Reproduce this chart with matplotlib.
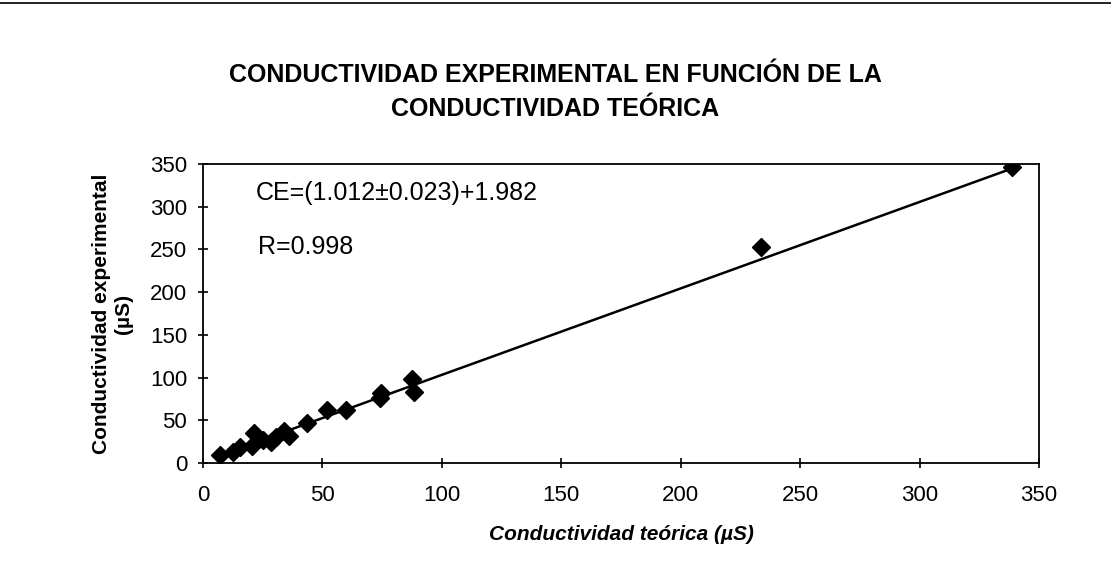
import matplotlib
matplotlib.use("Agg")
import matplotlib.pyplot as plt
import numpy as np

plt.rcParams['font.family'] = ['Liberation Sans', 'DejaVu Sans']

# Data
cond_teorica = [7, 12.5, 15.5, 20.5, 21.5, 25, 28.5, 30.5, 34, 36, 43.5, 52, 60, 74, 74.5, 87.5, 88.3, 233.5, 338.5]
cond_experimental = [9, 13, 19, 20, 35, 27, 25, 30.5, 37, 32, 47, 62, 61.5, 76, 82, 98.5, 83, 253, 347]
slope = 1.012
intercept = 1.982
x_ticks = [0, 50, 100, 150, 200, 250, 300, 350]
y_ticks = [0, 50, 100, 150, 200, 250, 300, 350]

fig = plt.figure(figsize=(11.11, 5.85), dpi=100)
ax = fig.add_axes([203/1111, 1 - 463/585, (1039-203)/1111, (463-164)/585])

ax.plot(cond_teorica, cond_experimental, 'D', color='black', markersize=9.5, zorder=3)
xl = np.array([min(cond_teorica), max(cond_teorica)])
ax.plot(xl, slope * xl + intercept, color='black', linewidth=1.8, zorder=2)

ax.set_xlim(0, 350)
ax.set_ylim(0, 350)
ax.set_xticks(x_ticks)
ax.set_yticks(y_ticks)
ax.tick_params(direction='inout', length=7, width=1.2, labelsize=16)
ax.tick_params(axis='x', pad=12)
ax.tick_params(axis='y', pad=8)
for s in ax.spines.values():
    s.set_linewidth(1.3)

ax.set_xlabel('Conductividad teórica (µS)', fontsize=15, fontweight='bold', style='italic', labelpad=14)
ax.set_ylabel('Conductividad experimental\n(µS)', fontsize=15, fontweight='bold', labelpad=12)

ax.text(22, 316, 'CE=(1.012±0.023)+1.982', fontsize=18, va='center', ha='left')
ax.text(23, 253, 'R=0.998', fontsize=18, va='center', ha='left')

fig.text(0.5, 1 - 92/585, 'CONDUCTIVIDAD EXPERIMENTAL EN FUNCIÓN DE LA\nCONDUCTIVIDAD TEÓRICA',
         ha='center', va='center', fontsize=18, fontweight='bold', linespacing=1.55)

fig.add_artist(plt.Line2D([0, 1], [1 - 3/585, 1 - 3/585], color='black', linewidth=1.2, transform=fig.transFigure))

fig.savefig('out.png', dpi=100)
